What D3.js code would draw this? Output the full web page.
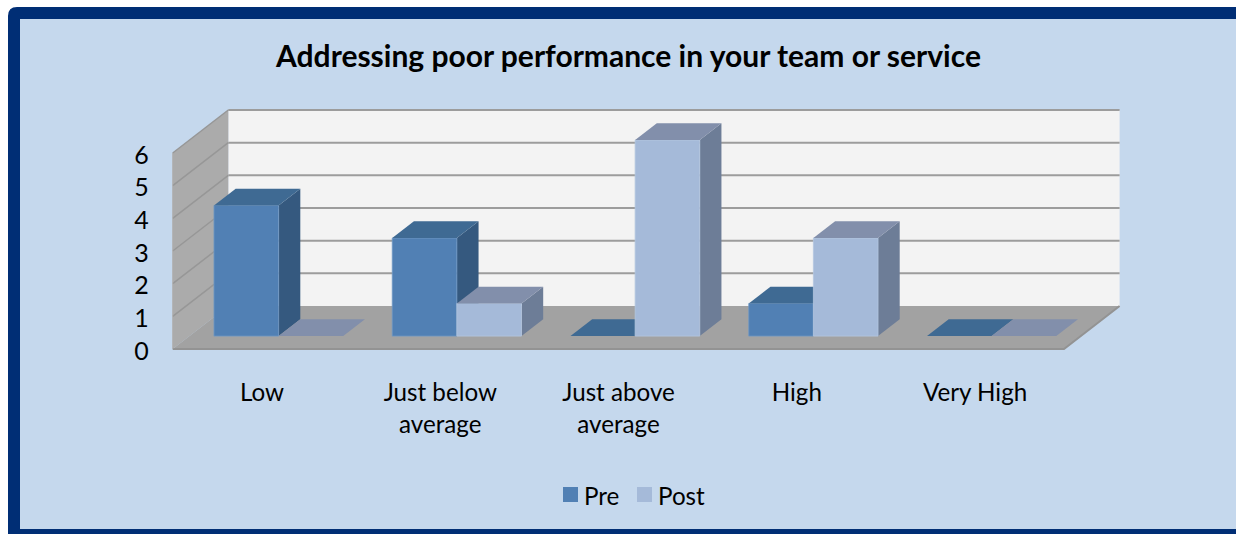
<!DOCTYPE html>
<html><head><meta charset="utf-8">
<script src="https://cdn.jsdelivr.net/npm/d3@7"></script>
<style>html,body{margin:0;padding:0;background:#fff;overflow:hidden}svg{display:block}text{font-family:Lato,"Open Sans",sans-serif;fill:#000}</style>
</head><body><svg id="c" width="1236" height="534"></svg>
<script>
const categories=["Low","Just below average","Just above average","High","Very High"];
const categoryLines=[["Low"],["Just below","average"],["Just above","average"],["High"],["Very High"]];
const seriesNames=["Pre","Post"];
const preValues=[4,3,0,1,0];
const postValues=[0,1,6,3,0];
const yTicks=[0,1,2,3,4,5,6];
const titleText="Addressing poor performance in your team or service";

const faces={Pre:{front:"#5180B4",top:"#3F6A93",side:"#35597F",edge:"#7098C4"},Post:{front:"#A5BAD9",top:"#828FAB",side:"#6D7D97",edge:"#B4C6E0"}};
const svg=d3.select("#c");
// frame
svg.append("rect").attr("x",20).attr("y",19).attr("width",1216).attr("height",510).attr("fill","#C5D8ED");
svg.append("path").attr("fill","#002E75").attr("fill-rule","evenodd")
  .attr("d","M8 534V16Q8 7 17 7H1236V534ZM20 19V529H1236V19Z");

const x0=172.7,x1=1064;
const x=d3.scaleBand().domain(categories).range([x0,x1]);
const group=d3.scaleBand().domain(seriesNames).range([24.6,x.bandwidth()-24.4]);
const y=d3.scaleLinear().domain([0,6]).range([349,153]);
const DX=55.6,DY=-43;
const P=(px,py,d)=>[px+DX*d,py+DY*d];
const poly=(pts,fill,g=svg)=>g.append("polygon").attr("points",pts.map(p=>p.join(",")).join(" ")).attr("fill",fill);
// walls
poly([P(x0,y(6),1),P(x1,y(6),1),P(x1,y(0),1),P(x0,y(0),1)],"#F3F3F3");
poly([P(x0,y(6),0),P(x0,y(6),1),P(x0,y(0),1),P(x0,y(0),0)],"#ABABAB");
poly([P(x0,y(0),0),P(x0,y(0),1),P(x1,y(0),1),P(x1,y(0),0)],"#A2A2A2");
svg.append("path").attr("d",d3.line()([P(x0,y(0),0),P(x1,y(0),0),P(x1,y(0),1)])).attr("fill","none").attr("stroke","#939393").attr("stroke-width",2);
// gridlines
const line=d3.line();
yTicks.forEach(t=>{
  if(t>0){
    svg.append("path").attr("d",line([P(x0,y(t),0),P(x0,y(t),1)])).attr("fill","none").attr("stroke","#979797").attr("stroke-width",1.5);
    svg.append("path").attr("d",line([P(x0,y(t),1),P(x1,y(t),1)])).attr("fill","none").attr("stroke","#9C9C9C").attr("stroke-width",2);
  }
});
svg.append("path").attr("d",line([P(x0,y(0),0),P(x0,y(6),0)])).attr("fill","none").attr("stroke","#B0B0B0").attr("stroke-width",1);
// bars
const D0=0.3,D1=0.69;
categories.forEach((c,i)=>{
  [["Pre",preValues[i]],["Post",postValues[i]]].forEach(([s,v])=>{
    const l=x(c)+group(s),r=l+group.bandwidth(),t=y(v),b=y(0),f=faces[s];
    const g=svg.append("g");
    if(v>0){
      poly([P(r,t,D0),P(r,t,D1),P(r,b,D1),P(r,b,D0)],f.side,g);
      poly([P(l,t,D0),P(r,t,D0),P(r,b,D0),P(l,b,D0)],f.front,g).attr("stroke",f.edge).attr("stroke-width",0.8);
    }
    poly([P(l,t,D0),P(l,t,D1),P(r,t,D1),P(r,t,D0)],f.top,g);
  });
});
// y axis labels
yTicks.forEach(t=>svg.append("text").attr("x",141.5).attr("y",y(t)+1.5).attr("dy","0.36em").attr("text-anchor","middle").attr("font-size",25).text(t));
// category labels
categories.forEach((c,i)=>{
  const cx=x(c)+x.bandwidth()/2+0.2;
  categoryLines[i].forEach((ln,j)=>svg.append("text").attr("x",cx).attr("y",400.5+j*32).attr("text-anchor","middle").attr("font-size",24.2).text(ln));
});
svg.append("text").attr("x",628.5).attr("y",67).attr("text-anchor","middle").attr("font-size",30).attr("font-weight",700).text(titleText);
// legend
const lg=[[563,"Pre"],[637,"Post"]];
seriesNames.forEach((s,i)=>{
  svg.append("rect").attr("x",lg[i][0]).attr("y",487).attr("width",15).attr("height",15).attr("fill",faces[s].front);
  svg.append("text").attr("x",lg[i][0]+21).attr("y",505).attr("font-size",24.2).text(s);
});
</script></body></html>
